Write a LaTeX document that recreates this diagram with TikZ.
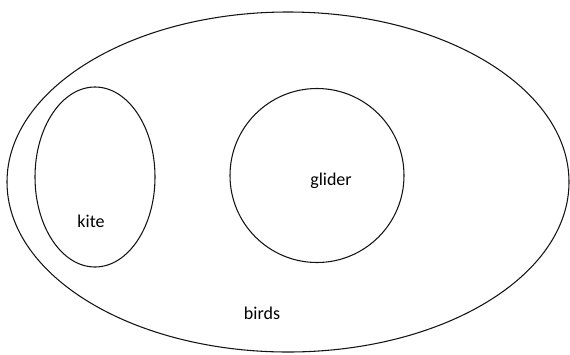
\documentclass[tikz,border=0pt]{standalone}
\usepackage{fontspec}
\setmainfont{Carlito}
\usepackage{tikz}
\definecolor{inkgray}{RGB}{20,20,20}

\begin{document}
\begin{tikzpicture}[x=0.75pt,y=-0.75pt]
  \tikzset{set/.style={draw=inkgray,line width=0.8pt},
    setlabel/.style={font=\fontsize{13.5}{16}\selectfont,text=black,inner sep=0pt}}
  \useasboundingbox (0,0) rectangle (570,354);
  % the three sets
  \draw[set] (288,182) ellipse [x radius=281,y radius=170];
  \draw[set] (95,177) ellipse [x radius=60,y radius=90];
  \draw[set] (317,175.5) circle [radius=87];
  % names
  \node[setlabel] (kite) at (91,221) {kite};
  \node[setlabel] (glider) at (331,181) {glider};
  \node[setlabel] (birds) at (262,313) {birds};
\end{tikzpicture}
\end{document}
